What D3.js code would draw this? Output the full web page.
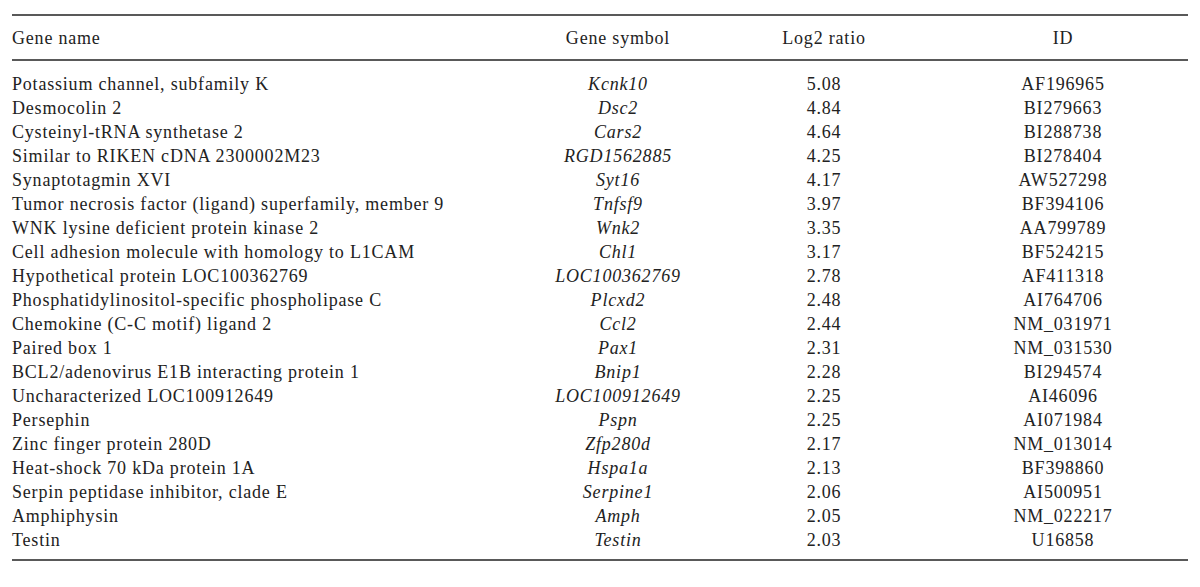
<!DOCTYPE html>
<html>
<head>
<meta charset="utf-8">
<script src="https://cdn.jsdelivr.net/npm/d3@7"></script>
<style>
  body { margin: 0; background: #fff; }
  svg text { font-family: "Liberation Serif", "DejaVu Serif", serif; fill: #222; }
</style>
</head>
<body>
<div id="chart"></div>
<script>
const headers = ["Gene name", "Gene symbol", "Log2 ratio", "ID"];

const geneNames = [
  "Potassium channel, subfamily K",
  "Desmocolin 2",
  "Cysteinyl-tRNA synthetase 2",
  "Similar to RIKEN cDNA 2300002M23",
  "Synaptotagmin XVI",
  "Tumor necrosis factor (ligand) superfamily, member 9",
  "WNK lysine deficient protein kinase 2",
  "Cell adhesion molecule with homology to L1CAM",
  "Hypothetical protein LOC100362769",
  "Phosphatidylinositol-specific phospholipase C",
  "Chemokine (C-C motif) ligand 2",
  "Paired box 1",
  "BCL2/adenovirus E1B interacting protein 1",
  "Uncharacterized LOC100912649",
  "Persephin",
  "Zinc finger protein 280D",
  "Heat-shock 70 kDa protein 1A",
  "Serpin peptidase inhibitor, clade E",
  "Amphiphysin",
  "Testin"
];

const geneSymbols = [
  "Kcnk10", "Dsc2", "Cars2", "RGD1562885", "Syt16", "Tnfsf9", "Wnk2", "Chl1",
  "LOC100362769", "Plcxd2", "Ccl2", "Pax1", "Bnip1", "LOC100912649", "Pspn",
  "Zfp280d", "Hspa1a", "Serpine1", "Amph", "Testin"
];

const log2Ratios = [
  "5.08", "4.84", "4.64", "4.25", "4.17", "3.97", "3.35", "3.17", "2.78", "2.48",
  "2.44", "2.31", "2.28", "2.25", "2.25", "2.17", "2.13", "2.06", "2.05", "2.03"
];

const ids = [
  "AF196965", "BI279663", "BI288738", "BI278404", "AW527298", "BF394106",
  "AA799789", "BF524215", "AF411318", "AI764706", "NM_031971", "NM_031530",
  "BI294574", "AI46096", "AI071984", "NM_013014", "BF398860", "AI500951",
  "NM_022217", "U16858"
];

const width = 1200, height = 587;
const svg = d3.select("#chart").append("svg")
  .attr("width", width)
  .attr("height", height);

// column x positions (first is left-aligned, the rest centred)
const colX = d3.scaleOrdinal()
  .domain(headers)
  .range([12, 618, 824, 1063]);
const anchors = ["start", "middle", "middle", "middle"];

// rows
const y = d3.scaleBand()
  .domain(d3.range(geneNames.length))
  .range([72, 552]);

const fontSize = 18;
const spacing = "0.8px";

// rules
svg.append("line").attr("x1", 12).attr("x2", 1188).attr("y1", 15).attr("y2", 15)
  .attr("stroke", "#222").attr("stroke-width", 1.6);
svg.append("line").attr("x1", 12).attr("x2", 1188).attr("y1", 60).attr("y2", 60)
  .attr("stroke", "#222").attr("stroke-width", 1.3);
svg.append("line").attr("x1", 12).attr("x2", 1188).attr("y1", 560).attr("y2", 560)
  .attr("stroke", "#222").attr("stroke-width", 1.6);

// header
svg.selectAll("text.header")
  .data(headers)
  .enter().append("text")
    .attr("class", "header")
    .attr("x", d => colX(d))
    .attr("y", 38)
    .attr("dy", "0.35em")
    .attr("text-anchor", (d, i) => anchors[i])
    .style("font-size", fontSize + "px")
    .style("letter-spacing", spacing)
    .text(d => d);

const rows = geneNames.map((name, i) => [name, geneSymbols[i], log2Ratios[i], ids[i]]);

const rowG = svg.selectAll("g.row")
  .data(rows)
  .enter().append("g")
    .attr("class", "row")
    .attr("transform", (d, i) => `translate(0,${y(i) + y.bandwidth() / 2})`);

rowG.selectAll("text")
  .data(d => d)
  .enter().append("text")
    .attr("x", (d, i) => colX(headers[i]))
    .attr("dy", "0.35em")
    .attr("text-anchor", (d, i) => anchors[i])
    .style("font-size", fontSize + "px")
    .style("letter-spacing", spacing)
    .style("font-style", (d, i) => i === 1 ? "italic" : "normal")
    .text(d => d);
</script>
</body>
</html>
